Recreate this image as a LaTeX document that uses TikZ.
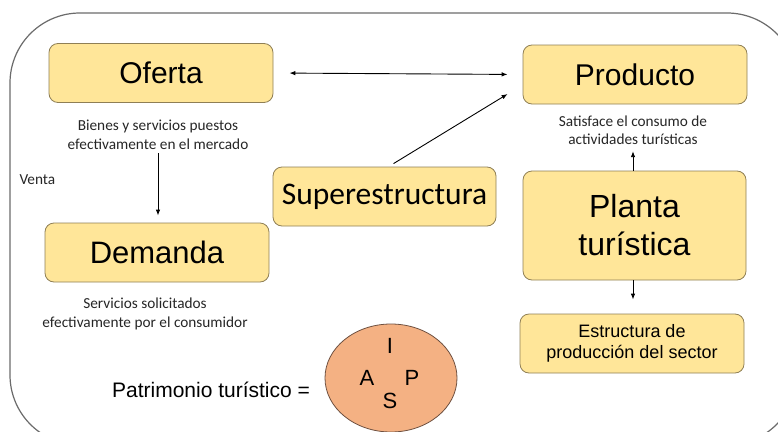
\documentclass[tikz,border=0pt]{standalone}
\usepackage{fontspec}
\setmainfont{Liberation Sans}
\newfontfamily\calibri{Carlito}
\usetikzlibrary{positioning, shapes.geometric, arrows.meta}

\definecolor{boxfill}{HTML}{FFE699}
\definecolor{boxline}{HTML}{8F7F55}
\definecolor{patfill}{HTML}{F4B183}
\definecolor{patline}{HTML}{6E5040}
\definecolor{framegray}{HTML}{6B6B6B}

\tikzset{
  concept/.style={draw=boxline, fill=boxfill, rounded corners=9pt, line width=0.8pt,
    minimum width=224pt, minimum height=59pt, align=center},
  note/.style={font=\calibri\fontsize{15.3}{18.5}\selectfont, text=black!85, align=center},
  flow/.style={-{Latex[length=6pt,width=4.5pt]}, line width=0.9pt},
  letter/.style={font=\fontsize{22}{26}\selectfont, inner sep=0pt},
}

\begin{document}
\begin{tikzpicture}[x=1pt, y=-1pt]
  \useasboundingbox (0,0) rectangle (778,431);

  % Outer frame
  \begin{scope}
    \clip (0,0) rectangle (778,431);
    \draw[framegray, line width=1.2pt, rounded corners=70pt] (10,13) rectangle (797,445);
  \end{scope}

  % Boxes
  \node[concept, font=\fontsize{30}{36}\selectfont] (oferta) at (161,73) {Oferta};
  \node[concept, font=\fontsize{30}{36}\selectfont] (producto) at (635,74.5) {Producto};
  \node[concept, font=\fontsize{31}{36}\selectfont] (demanda) at (157,252.5) {Demanda};
  \node[concept, minimum width=223pt, font=\calibri\fontsize{31.5}{36}\selectfont] (super) at (384.5,196.5) {Superestructura};
  \node[concept, minimum width=223pt, minimum height=109pt, font=\fontsize{32}{38}\selectfont] (planta) at (634.5,225.5) {Planta\\turística};
  \node[concept, font=\fontsize{18}{21}\selectfont] (estructura) at (632,343.5) {Estructura de\\producción del sector};

  % Notes
  \node[note] (ofertatxt) at (158,135) {Bienes y servicios puestos\\efectivamente en el mercado};
  \node[note] (demandatxt) at (145,314) {Servicios solicitados\\efectivamente por el consumidor};
  \node[note] (productotxt) at (633,130) {Satisface el consumo de\\actividades turísticas};
  \node[note, anchor=west] (venta) at (16,180) {Venta};

  % Patrimonio
  \node[font=\fontsize{21}{25}\selectfont] (patlabel) at (211,390) {Patrimonio turístico =};
  \node[ellipse, draw=patline, fill=patfill, line width=0.8pt, minimum width=132pt, minimum height=108pt] (patrimonio) at (391,378) {};
  \node[letter] (letI) at (390,346) {I};
  \node[letter] (letA) at (367,378) {A};
  \node[letter] (letP) at (412,378) {P};
  \node[letter] (letS) at (390,401) {S};

  % Arrows
  \draw[flow, {Latex[length=6pt,width=4.5pt]}-{Latex[length=6pt,width=4.5pt]}, shorten <=16pt, shorten >=15pt] (oferta.east) -- (producto.west);
  \draw[flow] ([xshift=9pt,yshift=3pt]super.north) -- ([xshift=-15pt,yshift=-19.5pt]producto.west);
  \draw[flow, shorten >=7pt] (ofertatxt.south) -- (ofertatxt.south |- demanda.north);
  \draw[flow, shorten >=3pt] (productotxt.south |- planta.north) -- (productotxt.south);
  \draw[flow, shorten >=14pt] (productotxt.south |- planta.south) -- (productotxt.south |- estructura.north);
\end{tikzpicture}
\end{document}
